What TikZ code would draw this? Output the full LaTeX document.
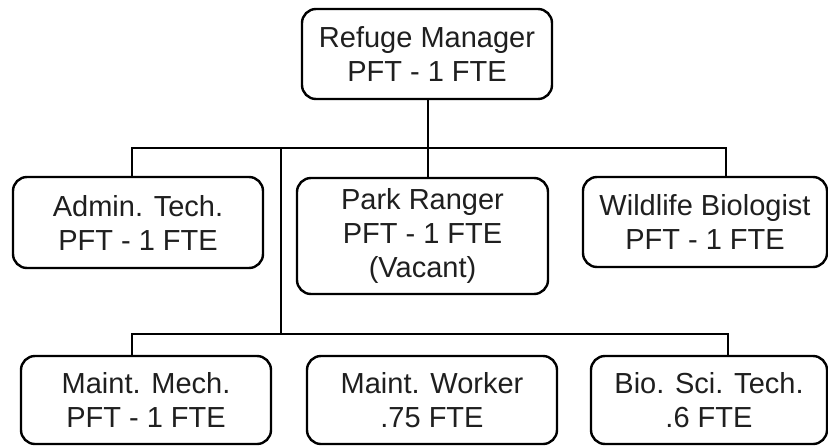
\documentclass[tikz,border=0pt]{standalone}
\usepackage{fontspec}
\setmainfont{Liberation Sans}
\begin{document}
\begin{tikzpicture}[x=1pt,y=-1pt,
  box/.style={draw=black, line width=2.4pt, rounded corners=14pt, fill=white,
    text=black!88, align=center, inner sep=0pt,
    font=\fontsize{29}{34}\selectfont},
  conn/.style={draw=black, line width=2.2pt}]
\fill[white] (0,0) rectangle (828,445);
\useasboundingbox (0,0) rectangle (828,445);
% nodes
\node[box, minimum width=250pt, minimum height=90pt] (mgr) at (427,54) {Refuge Manager\\PFT - 1 FTE};
\node[box, minimum width=250pt, minimum height=91pt] (admin) at (138,222.5) {Admin. Tech.\\PFT - 1 FTE};
\node[box, minimum width=251pt, minimum height=116pt] (ranger) at (422.5,236) {Park Ranger\\PFT - 1 FTE\\(Vacant)};
\node[box, minimum width=244pt, minimum height=90pt] (wild) at (705,222) {Wildlife Biologist\\PFT - 1 FTE};
\node[box, minimum width=250pt, minimum height=88pt] (mech) at (146,400) {Maint. Mech.\\PFT - 1 FTE};
\node[box, minimum width=250pt, minimum height=88pt] (worker) at (432,400) {Maint. Worker\\.75 FTE};
\node[box, minimum width=236pt, minimum height=88pt] (bio) at (709,400) {Bio. Sci. Tech.\\.6 FTE};
% junction coordinates
\coordinate (j1) at (428,148);
\coordinate (a1) at (132,148);
\coordinate (w1) at (726,148);
\coordinate (j2) at (281,148);
\coordinate (j3) at (281,334);
\coordinate (m1) at (132,334);
\coordinate (b1) at (728,334);
% connectors
\draw[conn] (mgr.south -| j1) -- (ranger.north -| j1);
\draw[conn] (admin.north -| a1) -- (a1) -- (w1) -- (wild.north -| w1);
\draw[conn] (j2) -- (j3);
\draw[conn] (mech.north -| m1) -- (m1) -- (b1) -- (bio.north -| b1);
\end{tikzpicture}
\end{document}
